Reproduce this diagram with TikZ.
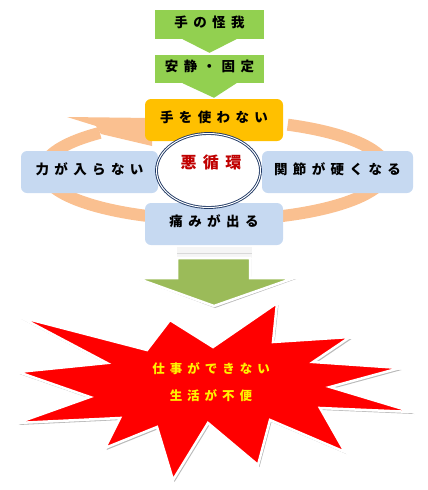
\documentclass[tikz,border=0pt]{standalone}
\usepackage{fontspec}
\newfontfamily\jpfont{Noto Sans CJK JP}[LetterSpace=40]
\usetikzlibrary{calc,shapes.geometric}

\definecolor{stepgreen}{HTML}{92D050}
\definecolor{idleorange}{HTML}{FFC000}
\definecolor{cycleblue}{HTML}{C6D9F1}
\definecolor{ringpeach}{HTML}{FAC090}
\definecolor{ringnavy}{HTML}{1F3864}
\definecolor{arrowolive}{HTML}{9BBB59}
\definecolor{viciousred}{HTML}{C00000}

\tikzset{
  jptext/.style={font=\jpfont\bfseries\fontsize{13.5pt}{14pt}\selectfont},
  stepbox/.style={jptext, fill=stepgreen, minimum width=109pt, minimum height=29pt,
    inner sep=0pt, text height=12pt, text depth=7pt},
  cyclebox/.style={jptext, fill=cycleblue, rounded corners=6pt, minimum height=42pt,
    inner sep=0pt, text height=12pt, text depth=8pt},
  stepdown/.style={fill=stepgreen}
}

\begin{document}
\begin{tikzpicture}[x=1pt,y=-1pt]
  \useasboundingbox (0,0) rectangle (428,490);

  % Peach circular arrow behind the cycle
  \draw[ringpeach, line width=12pt] (215,170) ++(-65:172 and 50)
    arc[start angle=-65, end angle=228, x radius=172, y radius=50];
  \fill[ringpeach] (67,117) -- (152,118) -- (152,146) -- (101,134) -- (96,126) -- cycle;

  % Steps before the cycle
  \node[stepbox] (injury) at (209.5,24.5) {手の怪我};
  \node[stepbox, minimum height=28pt] (rest) at (209.5,69) {安静・固定};
  \fill[stepdown] ($(injury.south)+(-27,0)$) -- ($(injury.south)+(27,0)$)
    -- ($(rest.north)+(0,-2)$) -- cycle;

  % The vicious cycle
  \node[cyclebox, fill=idleorange, minimum width=138pt] (nouse) at (214,120) {手を使わない};
  \fill[stepdown] ($(rest.south)+(-27,0)$) -- ($(rest.south)+(27,0)$)
    -- ($(nouse.north)+(0,-1)$) -- cycle;
  \node[cyclebox, minimum width=137pt] (weak) at (89.5,172) {力が入らない};
  \node[cyclebox, minimum width=151pt] (stiff) at (337.5,172) {関節が硬くなる};
  \node[cyclebox, minimum width=138pt] (pain) at (214,224) {痛みが出る};

  \node[ellipse, fill=white, draw=ringnavy, double=white, double distance=1pt,
    line width=0.9pt, minimum width=104pt, minimum height=74pt] (vicious) at (208.5,170.5) {};
  \node[font=\jpfont\bfseries\fontsize{16pt}{17pt}\selectfont, text=viciousred,
    xshift=2pt] (viciouslabel) at (209,162) {悪循環};

  % Big arrow down to the result
  \fill[gray!8] (177,247) rectangle (252,258);
  \draw[gray!30] (177,253) -- (252,253);
  \fill[gray!55] (178,259) -- (251,259) -- (251,279) -- (296,279) -- (215,308)
    -- (137,279) -- (178,279) -- cycle;
  \filldraw[fill=arrowolive, draw=white, line width=2.5pt, line join=miter]
    (177,258) -- (250,258) -- (250,278) -- (294,278) -- (214,306)
    -- (136,278) -- (177,278) -- cycle;

  % Result burst
  \def\burst{(20,317) -- (147,350) -- (170,320) -- (213,347) -- (277,303)
    -- (273,342) -- (350,337) -- (313,362) -- (400,368) -- (330,387)
    -- (413,412) -- (320,408) -- (345,452) -- (270,420) -- (258,465)
    -- (208,423) -- (173,480) -- (157,427) -- (105,448) -- (120,418)
    -- (17,423) -- (90,397) -- (18,372) -- (107,363) -- cycle}
  \fill[gray!55, shift={(1.5,2)}] \burst;
  \filldraw[fill=red, draw=white, line width=2.5pt, line join=miter] \burst;
  \node[font=\jpfont\bfseries\fontsize{12.5pt}{27pt}\selectfont, text=yellow,
    align=center] (result) at (211,382) {仕事ができない\\生活が不便};

\end{tikzpicture}
\end{document}
